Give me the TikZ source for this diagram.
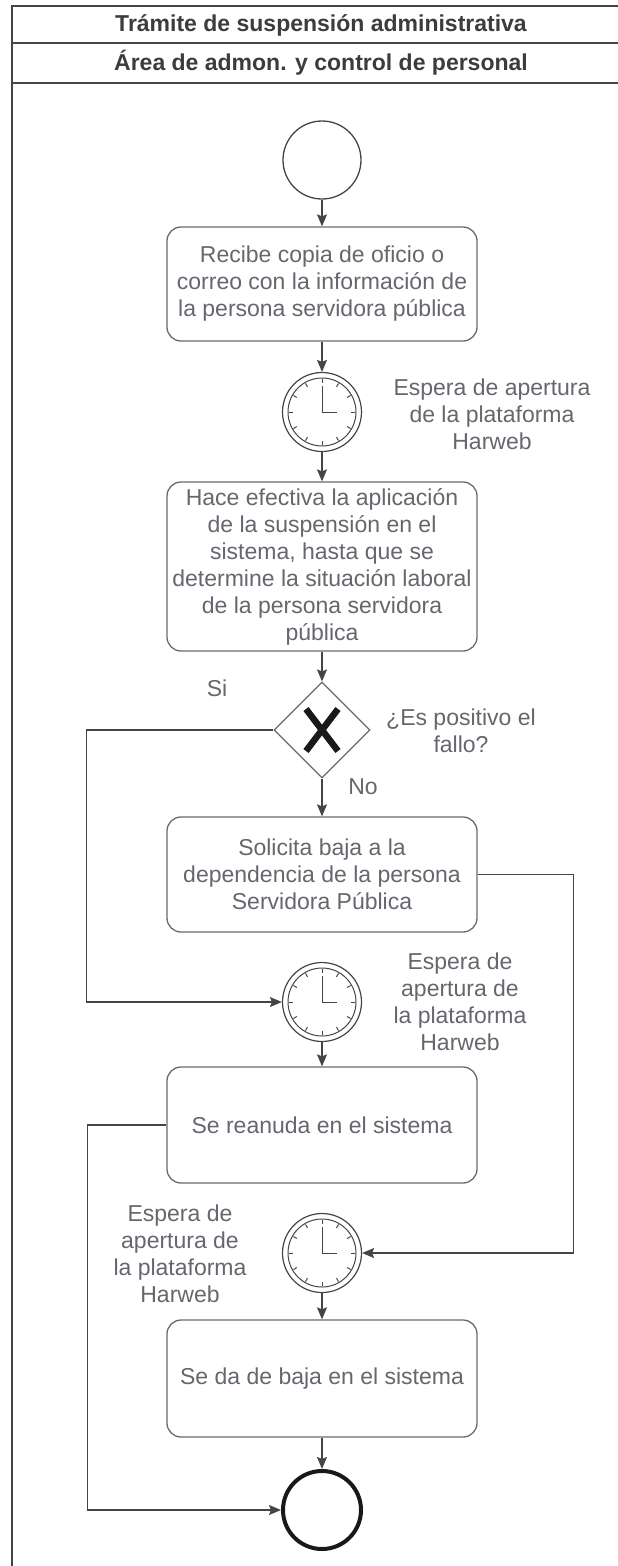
\documentclass[tikz,border=0pt]{standalone}
\usepackage{fontspec}
\setmainfont{Liberation Sans}
\usetikzlibrary{arrows.meta,shapes.geometric}
\definecolor{lineC}{HTML}{454545}
\definecolor{boxD}{HTML}{6A6A6A}
\definecolor{txtC}{HTML}{66666E}
\definecolor{headC}{HTML}{3C3C3C}
\tikzset{
  txt/.style={font=\fontsize{23}{27}\selectfont, text=txtC},
  head/.style={font=\fontsize{23}{27}\selectfont\bfseries, text=headC},
  frm/.style={draw=lineC, line width=1.5pt},
  task/.style={txt, draw=boxD, line width=1.3pt, rounded corners=14pt, minimum width=310pt,
               align=center, inner sep=0pt},
  ev/.style={circle, draw=lineC, line width=1.3pt, minimum size=78pt, inner sep=0pt},
  evend/.style={ev, draw=black!90, line width=4pt},
  timer/.style={circle, draw=lineC, line width=1.2pt, minimum size=79pt, inner sep=0pt},
  gate/.style={diamond, draw=boxD, line width=1.2pt, minimum width=96pt, minimum height=96pt, inner sep=0pt},
  xmark/.style={draw=black!90, line width=6.5pt},
  clk/.style={draw=lineC, line width=1pt},
  arr/.style={-{Stealth[length=12pt,width=10pt,inset=2pt]}, draw=lineC, line width=1.4pt},
  lab/.style={txt, align=center, inner sep=1pt},
}
\newcommand\reloj[1]{
  \draw[clk] (#1.center) circle[radius=34pt];
  \foreach \a in {0,30,...,330}
    \draw[clk] ([shift={(\a:29pt)}]#1.center) -- ([shift={(\a:33pt)}]#1.center);
  \draw[clk] ([shift={(0pt,26pt)}]#1.center) -- (#1.center) -- ([shift={(15pt,0pt)}]#1.center);
}

\begin{document}
\begin{tikzpicture}[x=1pt, y=-1pt]
\useasboundingbox (0,0) rectangle (618,1566);
\draw[frm] (12,1570) -- (12,6) -- (622,6);
\draw[frm] (12,43) -- (622,43);
\draw[frm] (12,83) -- (622,83);
\node[head] (tit) at (321,25) {Trámite de suspensión administrativa};
\node[head] (area) at (321,63) {Área de admon. y control de personal};

\node[ev] (start) at (322,160) {};
\node[task, minimum height=114pt] (recibe) at (322,284)
  {Recibe copia de oficio o\\correo con la información de\\la persona servidora pública};
\node[timer] (esp1) at (322,412) {};
\node[task, minimum height=169pt] (aplica) at (322,566.5)
  {Hace efectiva la aplicación\\de la suspensión en el\\sistema, hasta que se\\determine la situación laboral\\de la persona servidora\\pública};
\node[gate] (gw) at (322,730) {};
\node[task, minimum height=115pt] (solicita) at (322,874.5)
  {Solicita baja a la\\dependencia de la persona\\Servidora Pública};
\node[timer] (esp2) at (322,1002) {};
\node[task, minimum height=116pt] (reanuda) at (322,1125) {Se reanuda en el sistema};
\node[timer] (esp3) at (322,1253) {};
\node[task, minimum height=117pt] (baja) at (322,1378.5) {Se da de baja en el sistema};
\node[evend] (fin) at (322,1510) {};

\reloj{esp1}
\reloj{esp2}
\reloj{esp3}
\draw[xmark] (gw.center) +(-16,-21) -- +(16,21) +(-16,21) -- +(16,-21);

\node[lab] (lesp1) at (492,414) {Espera de apertura\\de la plataforma\\Harweb};
\node[lab] (lesp2) at (460,1002) {Espera de\\apertura de\\la plataforma\\Harweb};
\node[lab] (lesp3) at (180,1254) {Espera de\\apertura de\\la plataforma\\Harweb};
\node[lab] (pregunta) at (461,731) {¿Es positivo el\\fallo?};
\node[lab] (si) at (217,688) {Si};
\node[lab] (no) at (363,787) {No};

\draw[arr] (start) -- (recibe);
\draw[arr] (recibe) -- (esp1);
\draw[arr] (esp1) -- (aplica);
\draw[arr] (aplica) -- (gw);
\draw[arr] (gw) -- (solicita);
\draw[arr] (gw.west) -- ++(-187,0) |- (esp2.west);
\draw[arr] (solicita.east) -- ++(96,0) |- (esp3.east);
\draw[arr] (esp2) -- (reanuda);
\draw[arr] (reanuda.west) -- ++(-79,0) |- (fin.west);
\draw[arr] (esp3) -- (baja);
\draw[arr] (baja) -- (fin);
\end{tikzpicture}
\end{document}
